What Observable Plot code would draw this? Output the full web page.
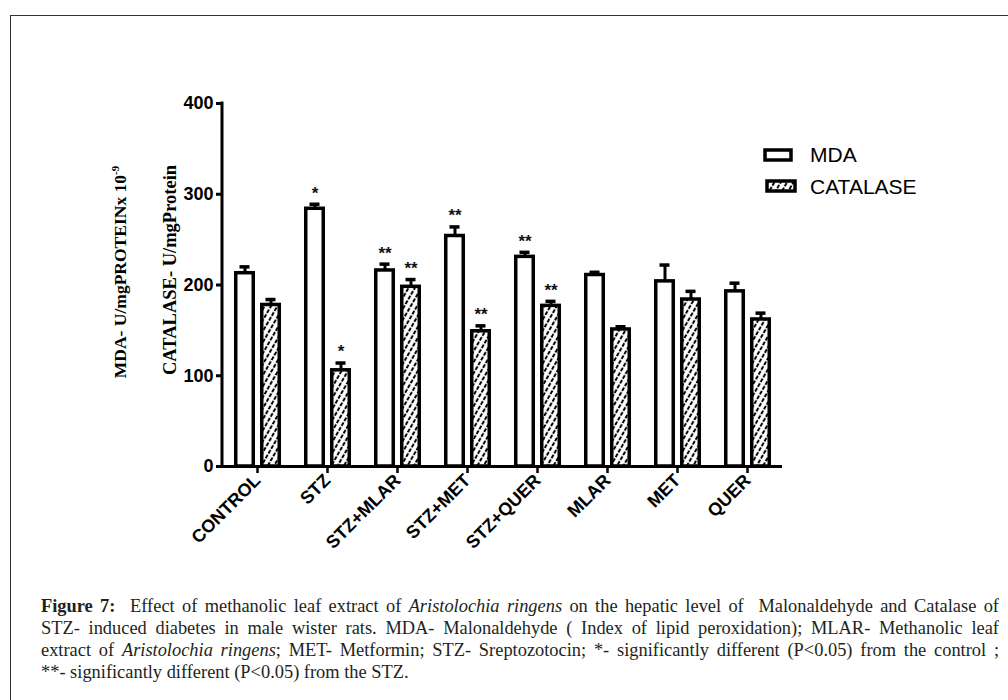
<!DOCTYPE html>
<html><head><meta charset="utf-8">
<script src="https://cdn.jsdelivr.net/npm/d3@7"></script>
<script src="https://cdn.jsdelivr.net/npm/@observablehq/plot@0.6"></script>
<style>
html,body{margin:0;padding:0;overflow:hidden;background:#fff;width:1008px;height:700px;}
#frame{position:absolute;left:10px;top:15px;width:1200px;height:900px;border:1px solid #333;box-sizing:border-box;}
#chart{position:absolute;left:0;top:0;}
#caption{position:absolute;left:41px;top:595px;width:958px;font-family:"Liberation Serif",serif;font-size:18.4px;line-height:22px;color:#231f20;}
#caption div{text-align:justify;text-align-last:justify;}
#caption div.last{text-align-last:left;}
</style>
</head><body>
<div id="frame"></div>
<div id="chart"></div>
<div id="caption">
<div><b>Figure 7:</b>&nbsp; Effect of methanolic leaf extract of <i>Aristolochia ringens</i> on the hepatic level of &nbsp;Malonaldehyde and Catalase of</div>
<div>STZ- induced diabetes in male wister rats. MDA- Malonaldehyde ( Index of lipid peroxidation); MLAR- Methanolic leaf</div>
<div>extract of <i>Aristolochia ringens</i>; MET- Metformin; STZ- Sreptozotocin; *- significantly different (P&lt;0.05) from the control ;</div>
<div class="last">**- significantly different (P&lt;0.05) from the STZ.</div>
</div>
<script>
const groups = ["CONTROL","STZ","STZ+MLAR","STZ+MET","STZ+QUER","MLAR","MET","QUER"];
const mda = [213, 284, 216, 254, 231, 211, 204, 193];
const mdaErr = [7, 5, 7, 10, 5, 3, 18, 9];
const catalase = [178, 106, 198, 149, 177, 151, 184, 162];
const catErr = [6, 8, 8, 6, 5, 3, 9, 7];
const mdaSig = ["", "*", "**", "**", "**", "", "", ""];
const catSig = ["", "*", "**", "**", "**", "", "", ""];
const yTicks = [0, 100, 200, 300, 400];
const seriesNames = ["MDA", "CATALASE"];

const mdaRows = groups.map((g, i) => ({group: g, value: mda[i], err: mdaErr[i], sig: mdaSig[i]}));
const catRows = groups.map((g, i) => ({group: g, value: catalase[i], err: catErr[i], sig: catSig[i]}));
const capTop = d => d.value + d.err;
const sans = "Liberation Sans, Arial, sans-serif";

const plot = Plot.plot({
  width: 1008, height: 560,
  marginLeft: 222, marginRight: 226, marginTop: 103, marginBottom: 94,
  x: {domain: groups, padding: 0},
  y: {domain: [0, 400]},
  style: {fontFamily: sans, color: "black", background: "transparent", overflow: "visible"},
  marks: [
    Plot.barY(mdaRows, {x: "group", y: "value", fill: "white", stroke: "black", strokeWidth: 3.5, insetLeft: 13.75, insetRight: 38.75}),
    Plot.barY(catRows, {x: "group", y: "value", fill: "url(#hatch)", stroke: "black", strokeWidth: 3.5, insetLeft: 39.75, insetRight: 12.75}),
    Plot.ruleX(mdaRows, {x: "group", y1: "value", y2: capTop, stroke: "black", strokeWidth: 3, dx: -12.5}),
    Plot.ruleX(catRows, {x: "group", y1: "value", y2: capTop, stroke: "black", strokeWidth: 3, dx: 13.5}),
    Plot.tickY(mdaRows, {x: "group", y: capTop, stroke: "black", strokeWidth: 3.5, insetLeft: 17.5, insetRight: 42.5}),
    Plot.tickY(catRows, {x: "group", y: capTop, stroke: "black", strokeWidth: 3.5, insetLeft: 43.5, insetRight: 16.5}),
    Plot.text(mdaRows, {x: "group", y: capTop, text: "sig", dx: -12.5, dy: -11, fontSize: 17, fontWeight: "bold", fill: "#111"}),
    Plot.text(catRows, {x: "group", y: capTop, text: "sig", dx: 13.5, dy: -11, fontSize: 17, fontWeight: "bold", fill: "#111"}),
    Plot.ruleY([0], {stroke: "black", strokeWidth: 3}),
    Plot.axisY({ticks: yTicks, tickSize: 6, tickPadding: 3, strokeWidth: 3, fontSize: 18, fontWeight: "bold", label: null}),
    Plot.axisX({tickSize: 7, tickPadding: 4, strokeWidth: 2.5, tickRotate: -45, fontSize: 18, fontWeight: "bold", label: null})
  ]
});

const svg = d3.select(plot);
const defs = svg.insert("defs", ":first-child");
const pat = defs.append("pattern").attr("id", "hatch").attr("patternUnits", "userSpaceOnUse")
  .attr("width", 5.5).attr("height", 5.5).attr("patternTransform", "rotate(-60)");
pat.append("rect").attr("width", 5.5).attr("height", 5.5).attr("fill", "white");
pat.append("line").attr("x1", 0).attr("y1", 2.75).attr("x2", 5.5).attr("y2", 2.75)
  .attr("stroke", "black").attr("stroke-width", 2).attr("stroke-dasharray", "4 1.5");

// y axis line drawn with the plot's own y scale
const ys = plot.scale("y");
const yScale = d3.scaleLinear().domain(ys.domain).range(ys.range);
svg.append("line").attr("x1", 222).attr("x2", 222)
  .attr("y1", yScale(0) + 1.5).attr("y2", yScale(400) - 1.5)
  .attr("stroke", "black").attr("stroke-width", 3);

// y axis titles
const t1 = svg.append("text").attr("transform", "translate(126,272) rotate(-90)")
  .attr("text-anchor", "middle").attr("font-family", "Liberation Serif, serif")
  .attr("font-size", 17.5).attr("font-weight", "bold").attr("fill", "black");
t1.append("tspan").text("MDA- U/mgPROTEINx 10");
t1.append("tspan").attr("dy", -7).attr("font-size", 11).text("-9");
svg.append("text").attr("transform", "translate(176,270) rotate(-90)")
  .attr("text-anchor", "middle").attr("font-family", "Liberation Serif, serif")
  .attr("font-size", 18.5).attr("font-weight", "bold").attr("fill", "black")
  .text("CATALASE- U/mgProtein");

// legend
const lg = svg.append("g").attr("font-family", sans).attr("font-size", 21).attr("fill", "black").attr("text-anchor", "start");
lg.append("rect").attr("x", 765).attr("y", 150).attr("width", 26).attr("height", 10)
  .attr("fill", "white").attr("stroke", "black").attr("stroke-width", 3.5);
lg.append("text").attr("x", 810).attr("y", 162).attr("text-anchor", "start").text(seriesNames[0]);
lg.append("rect").attr("x", 767).attr("y", 181).attr("width", 28).attr("height", 10)
  .attr("fill", "url(#hatch)").attr("stroke", "black").attr("stroke-width", 3.5);
lg.append("text").attr("x", 810).attr("y", 194).attr("text-anchor", "start").text(seriesNames[1]);

document.getElementById("chart").appendChild(plot);
</script>
</body></html>
